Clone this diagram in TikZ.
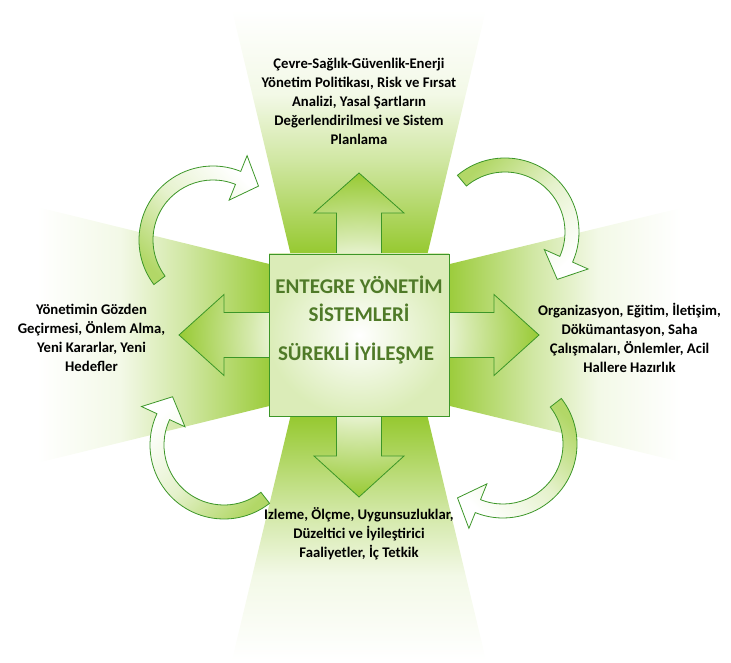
\documentclass[tikz,border=0pt]{standalone}
\usepackage{fontspec}
\setmainfont{Carlito}
\usetikzlibrary{calc}
\definecolor{leafgreen}{RGB}{152,202,52}
\definecolor{edgegreen}{RGB}{60,150,40}
\definecolor{titlegreen}{RGB}{79,122,40}
\pgfdeclareverticalshading{beamfade}{100bp}{color(0bp)=(leafgreen); color(38bp)=(leafgreen); color(52bp)=(leafgreen!45!white); color(62bp)=(leafgreen!12!white); color(75bp)=(white); color(100bp)=(white)}
\pgfdeclareradialshading{crossglow}{\pgfpoint{0bp}{0bp}}{color(0bp)=(white); color(9bp)=(white); color(15bp)=(leafgreen!40!white); color(25bp)=(leafgreen); color(50bp)=(leafgreen)}
\tikzstyle{beam} = [shade, shading=beamfade]
\tikzstyle{cross} = [draw=edgegreen, line width=0.8pt, shade, shading=crossglow]
\tikzstyle{core} = [rectangle, minimum width=180pt, minimum height=162pt, draw=edgegreen, line width=0.8pt, inner color=white, outer color=leafgreen!35!white]
\tikzstyle{coretext} = [text=titlegreen, font=\fontsize{21}{26}\selectfont\bfseries, anchor=base]
\tikzstyle{caption} = [align=center, font=\fontsize{14.7}{19}\selectfont\bfseries]
\tikzstyle{cycarrow} = [draw=edgegreen, line width=0.8pt, top color=white, bottom color=leafgreen!75!white, middle color=leafgreen!25!white]
% round arrow: centre, start angle, end angle, shading angle
\newcommand{\cyclearrow}[4]{%
  \path[cycarrow, shading angle=#4]
    ($(#1)+(#2:74)$) arc[start angle=#2, end angle=#3, radius=74]
    -- ($(#1)+(#3:91)$)
    -- ($(#1)+(#3:67)+(#3-90:22)$)
    -- ($(#1)+(#3:43)$)
    -- ($(#1)+(#3:60)$) arc[start angle=#3, end angle=#2, radius=60]
    -- cycle;}
\begin{document}
\begin{tikzpicture}[x=1pt, y=1pt]
    \useasboundingbox (0,0) rectangle (731,662);
    \coordinate (mid) at (359,327);
    % light beams
    \path[beam, shading angle=0] ($(mid)+(-49,0)$) -- ($(mid)+(49,0)$) -- ($(mid)+(127,325)$) -- ($(mid)+(-127,325)$) -- cycle;
    \path[beam, shading angle=180] ($(mid)+(-49,0)$) -- ($(mid)+(49,0)$) -- ($(mid)+(127,-325)$) -- ($(mid)+(-127,-325)$) -- cycle;
    \path[beam, shading angle=90] ($(mid)+(0,49)$) -- ($(mid)+(0,-49)$) -- ($(mid)+(-322,-128)$) -- ($(mid)+(-322,128)$) -- cycle;
    \path[beam, shading angle=-90] ($(mid)+(0,49)$) -- ($(mid)+(0,-49)$) -- ($(mid)+(322,-127)$) -- ($(mid)+(322,127)$) -- cycle;
    % round arrows
    \coordinate (tl) at (213,422);
    \coordinate (tr) at (505,430);
    \coordinate (br) at (503,218);
    \coordinate (bl) at (224,217);
    \cyclearrow{tl}{217}{68}{-45}
    \cyclearrow{tr}{130}{-24}{-135}
    \cyclearrow{br}{38}{-112}{135}
    \cyclearrow{bl}{-52}{-205}{45}
    % four way arrow
    \begin{scope}[shift={(mid)}]
        \path[cross] (22.5,122) -- (45,122) -- (0,162) -- (-45,122) -- (-22.5,122) -- (-22.5,22.5)
            -- (-135,22.5) -- (-135,40.5) -- (-180,0) -- (-135,-40.5) -- (-135,-22.5) -- (-22.5,-22.5)
            -- (-22.5,-121) -- (-45,-121) -- (0,-162) -- (45,-121) -- (22.5,-121) -- (22.5,-22.5)
            -- (135,-22.5) -- (135,-40.5) -- (180,0) -- (135,40.5) -- (135,22.5) -- (22.5,22.5) -- cycle;
    \end{scope}
    \node (core) [core] at (mid) {};
    \node (titleA) [coretext] at ($(core.center)+(0,41)$) {ENTEGRE YÖNETİM};
    \node (titleB) [coretext] at ($(core.center)+(0,13)$) {SİSTEMLERİ};
    \node (titleC) [coretext] at ($(core.center)+(-3,-26)$) {SÜREKLİ İYİLEŞME};
    % phases
    \node (plan) [caption, node distance=233.5pt, above of=core] {Çevre-Sağlık-Güvenlik-Enerji\\Yönetim Politikası, Risk ve Fırsat\\Analizi, Yasal Şartların\\Değerlendirilmesi ve Sistem\\Planlama};
    \node (do) [caption, node distance=270.5pt, right of=core, yshift=-3pt] {Organizasyon, Eğitim, İletişim,\\Dökümantasyon, Saha\\Çalışmaları, Önlemler, Acil\\Hallere Hazırlık};
    \node (check) [caption, node distance=198.5pt, below of=core] {Izleme, Ölçme, Uygunsuzluklar,\\Düzeltici ve İyileştirici\\Faaliyetler, İç Tetkik};
    \node (act) [caption, node distance=267.5pt, left of=core, yshift=-3pt] {Yönetimin Gözden\\Geçirmesi, Önlem Alma,\\Yeni Kararlar, Yeni\\Hedefler};
\end{tikzpicture}
\end{document}
